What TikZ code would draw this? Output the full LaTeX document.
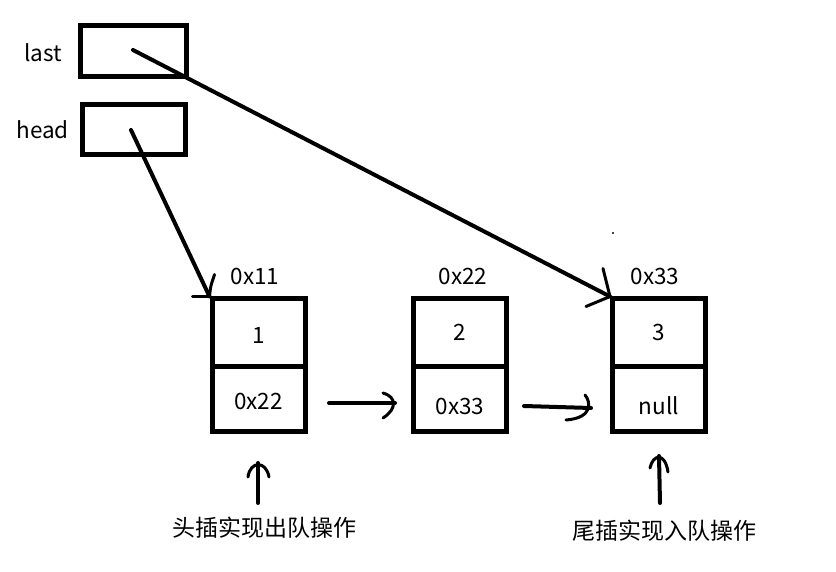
\documentclass[tikz,border=0pt]{standalone}
\usepackage{fontspec}
\setmainfont{Noto Sans CJK SC}
\usetikzlibrary{calc}
\tikzset{
  ptr/.style={draw, line width=5pt, minimum width=106pt, minimum height=51pt, inner sep=0pt},
  cell/.style={draw, line width=5pt, minimum width=93pt, inner sep=0pt, font=\fontsize{22.5}{26}\selectfont},
  lbl/.style={inner sep=0pt, font=\fontsize{22.5}{26}\selectfont},
  captext/.style={inner sep=0pt, font=\fontsize{23}{27}\selectfont},
  ink/.style={line width=4pt, line cap=round, line join=round},
  barb/.style={line width=3pt, line cap=round, line join=round},
}
\newcommand{\lowered}[2]{\raisebox{-#1}[0pt][0pt]{#2}}
\begin{document}
\begin{tikzpicture}[x=1pt,y=-1pt]
\useasboundingbox (0,0) rectangle (836,572);
% pointer boxes
\node[ptr] (last) at (133.5,51) {};
\node[ptr, minimum width=103pt, minimum height=50pt] (head) at (133.5,130) {};
\node[lbl, anchor=east] (lastl) at (62,53) {last};
\node[lbl, anchor=east] (headl) at (69,130) {head};
% list nodes
\node[cell, minimum height=67pt] (v1) at (258.5,332.5) {\lowered{10.5pt}{1}};
\node[cell, minimum height=65pt] (p1) at (258.5,398.5) {\lowered{10.5pt}{0x22}};
\node[cell, minimum height=67pt] (v2) at (460,332.5) {\lowered{8.5pt}{2}};
\node[cell, minimum height=65pt] (p2) at (460,398.5) {\lowered{15.5pt}{0x33}};
\node[cell, minimum height=67pt] (v3) at (659,332.5) {\lowered{8pt}{3}};
\node[cell, minimum height=65pt] (p3) at (659,398.5) {\lowered{16.5pt}{null}};
\node[lbl] (a1) at (255,276) {0x11};
\node[lbl] (a2) at (463,276) {0x22};
\node[lbl] (a3) at (655,276) {0x33};
% head -> node 1
\coordinate (hs) at (131,130);
\coordinate (ht) at (v1.north west);
\draw[ink] (hs) -- (ht);
\draw[barb] (ht) -- ++(-17,0);
\draw[barb] (ht) .. controls ($(ht)+(1,-10)$) .. ($(ht)+(5,-22)$);
% last -> node 3
\coordinate (ls) at (133,50);
\coordinate (lt) at (v3.north west);
\draw[ink] (ls) -- (lt);
\draw[barb] (lt) -- ++(-24,10);
\draw[barb] (lt) -- ++(-7,-28);
% next pointers
\coordinate (n1s) at (329,403);
\coordinate (n1t) at (395,403);
\draw[ink] (n1s) -- (n1t);
\draw[barb] ($(n1t)+(-12,-10)$) .. controls ($(n1t)+(2,-6)$) and ($(n1t)+(2,6)$) .. ($(n1t)+(-12,15)$);
\coordinate (n2s) at (524,406);
\coordinate (n2t) at (591,408);
\draw[ink] (n2s) -- (n2t);
\draw[barb] ($(n2t)+(-6,-13)$) .. controls ($(n2t)+(0,-6)$) and ($(n2t)+(2,10)$) .. ($(n2t)+(-25,12)$);
% captions
\node[captext] (c1) at (264,528) {头插实现出队操作};
\node[captext] (c2) at (664,531) {尾插实现入队操作};
\coordinate (u1b) at (258,503);
\coordinate (u1t) at (258,463);
\draw[ink] (u1b) -- (u1t);
\draw[barb] ($(u1t)+(-10,14)$) .. controls ($(u1t)+(-8,-2)$) and ($(u1t)+(8,-3)$) .. ($(u1t)+(11,14)$);
\coordinate (u2b) at (660,503);
\coordinate (u2t) at (659,456);
\draw[ink] (u2b) -- (u2t);
\draw[barb] ($(u2t)+(-9,12)$) .. controls ($(u2t)+(-6,-2)$) and ($(u2t)+(6,-4)$) .. ($(u2t)+(9,16)$);
% stray dot
\fill (613,233) circle (1.2pt);
\end{tikzpicture}
\end{document}
